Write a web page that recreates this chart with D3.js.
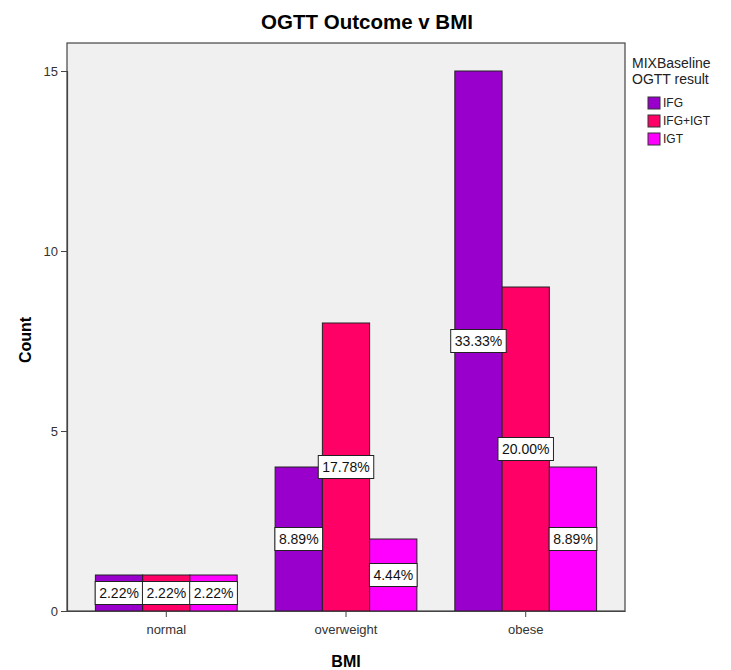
<!DOCTYPE html>
<html><head><meta charset="utf-8">
<script src="https://cdn.jsdelivr.net/npm/d3@7"></script>
<style>body{margin:0;background:#fff}svg{display:block}</style>
</head><body>
<script>
const categories = ["normal", "overweight", "obese"];
const seriesNames = ["IFG", "IFG+IGT", "IGT"];
const IFG = [1, 4, 15];
const IFG_IGT = [1, 8, 9];
const IGT = [1, 2, 4];
const pctIFG = ["2.22%", "8.89%", "33.33%"];
const pctIFG_IGT = ["2.22%", "17.78%", "20.00%"];
const pctIGT = ["2.22%", "4.44%", "8.89%"];
const yTicks = [0, 5, 10, 15];
const colors = ["#9900CC", "#FF0066", "#FF00FF"];

const values = [IFG, IFG_IGT, IGT];
const pcts = [pctIFG, pctIFG_IGT, pctIGT];
const data = [];
categories.forEach((c, i) => seriesNames.forEach((s, j) => data.push({cat: c, ser: s, v: values[j][i], pct: pcts[j][i], j})));

const W = 731, H = 670;
const L = 67, R = 625, T = 43, B = 611;
const font = "Arial, 'Liberation Sans', sans-serif";
const svg = d3.select("body").append("svg").attr("width", W).attr("height", H);

const x0 = d3.scaleBand().domain(categories).range([L, R]).paddingInner(0.2111).paddingOuter(0.158);
const x1 = d3.scaleBand().domain(seriesNames).range([0, x0.bandwidth()]);
const y = d3.scaleLinear().domain([0, 15]).range([B, B - 540]);

svg.append("rect").attr("x", L).attr("y", T).attr("width", R - L).attr("height", B - T)
  .attr("fill", "#F0F0F0").attr("stroke", "#444").attr("stroke-width", 1.2);

svg.append("text").attr("x", 367).attr("y", 29).attr("text-anchor", "middle")
  .attr("font-family", font).attr("font-weight", "bold").attr("font-size", 20.5).attr("fill", "#000")
  .text("OGTT Outcome v BMI");

const bars = svg.append("g");
bars.selectAll("rect").data(data).join("rect")
  .attr("x", d => x0(d.cat) + x1(d.ser))
  .attr("y", d => y(d.v))
  .attr("width", x1.bandwidth())
  .attr("height", d => y(0) - y(d.v))
  .attr("fill", d => colors[d.j]).attr("stroke", "#222").attr("stroke-width", 1);

const labs = svg.append("g").selectAll("g").data(data).join("g")
  .attr("transform", d => `translate(${x0(d.cat) + x1(d.ser) + x1.bandwidth() / 2},${(y(d.v) + y(0)) / 2})`);
labs.each(function (d) {
  const g = d3.select(this);
  const r = g.append("rect");
  const t = g.append("text").attr("text-anchor", "middle").attr("dy", "0.36em")
    .attr("font-family", font).attr("font-size", 14).attr("fill", "#111").text(d.pct);
  const w = Math.max(t.node().getComputedTextLength() + 8, x1.bandwidth());
  r.attr("x", -w / 2).attr("y", -11.5).attr("width", w).attr("height", 23)
    .attr("fill", "#fff").attr("stroke", "#222").attr("stroke-width", 1);
});

const yAxis = svg.append("g").attr("transform", `translate(${L},0)`)
  .call(d3.axisLeft(y).tickValues(yTicks).tickSize(6).tickPadding(3));
yAxis.select(".domain").attr("stroke", "#444").attr("stroke-width", 1.2);
yAxis.selectAll(".tick line").attr("stroke", "#444");
yAxis.selectAll("text").attr("font-family", font).attr("font-size", 13).attr("fill", "#333");

const xAxis = svg.append("g").attr("transform", `translate(0,${B})`)
  .call(d3.axisBottom(x0).tickSize(6).tickPadding(8).tickSizeOuter(0));
xAxis.select(".domain").attr("stroke", "#444").attr("stroke-width", 1.2);
xAxis.selectAll(".tick line").attr("stroke", "#444");
xAxis.selectAll("text").attr("font-family", font).attr("font-size", 13).attr("fill", "#333");

svg.append("text").attr("transform", "translate(31,340) rotate(-90)").attr("text-anchor", "middle")
  .attr("font-family", font).attr("font-weight", "bold").attr("font-size", 16).text("Count");
svg.append("text").attr("x", 346).attr("y", 667).attr("text-anchor", "middle")
  .attr("font-family", font).attr("font-weight", "bold").attr("font-size", 16).text("BMI");

const lg = svg.append("g");
lg.append("text").attr("x", 632).attr("y", 68).attr("font-family", font).attr("font-size", 14).attr("fill", "#222").text("MIXBaseline");
lg.append("text").attr("x", 632).attr("y", 84).attr("font-family", font).attr("font-size", 14).attr("fill", "#222").text("OGTT result");
const items = lg.selectAll("g.it").data(seriesNames).join("g").attr("class", "it")
  .attr("transform", (d, i) => `translate(648,${97 + i * 18})`);
items.append("rect").attr("width", 12).attr("height", 12).attr("fill", (d, i) => colors[i]).attr("stroke", "#333");
items.append("text").attr("x", 15).attr("y", 6).attr("dy", "0.36em").attr("font-family", font).attr("font-size", 12).attr("fill", "#222").text(d => d);
</script>
</body></html>
